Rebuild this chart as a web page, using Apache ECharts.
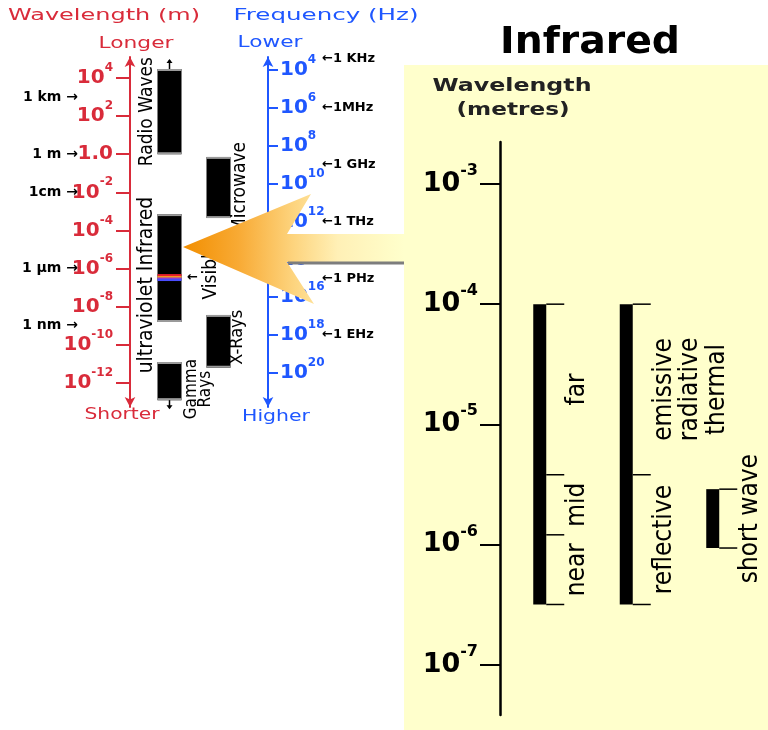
<!DOCTYPE html>
<html><head><meta charset="utf-8">
<script src="https://cdn.jsdelivr.net/npm/echarts@6/dist/echarts.min.js"></script>
<style>html,body{margin:0;padding:0;background:#fff}#c{width:768px;height:730px}</style>
</head><body><div id="c"></div>
<script>
// ---------------- data ----------------
const spectrumColumns = ['column A', 'column B'];
const bandNames = ['Radio Waves', 'Microwave', 'ultraviolet Infrared', 'Visible', 'X-Rays', 'Gamma\nRays'];
const bandColumn = [0, 1, 0, 0, 1, 0];
const bandLongExp = [4.47, -0.14, -3.14, -6.34, -8.43, -10.9];   // log10 wavelength (m), long end
const bandShortExp = [0, -3.35, -8.8, -6.6, -11.2, -12.9];      // log10 wavelength (m), short end
const visibleStripeExp = [-6.34, -6.44, -6.52, -6.60];
const wavelengthTickExp = [4, 2, 0, -2, -4, -6, -8, -10, -12];
const wavelengthMarkNames = ['1 km', '1 m', '1cm', '1 µm', '1 nm'];
const wavelengthMarkExp = [3, 0, -2, -6, -9];
const frequencyTickExp = [4, 6, 8, 10, 12, 14, 16, 18, 20];
const frequencyMarkNames = ['1 KHz', '1MHz', '1 GHz', '1 THz', '1 PHz', '1 EHz'];
const frequencyMarkExp = [3.4, 6, 9, 12, 15, 18];

const irGroupNames = ['near / mid / far', 'reflective / emissive', 'short wave'];
const irEdgeExp = [[-6.5, -5.92, -5.42, -4], [-6.5, -5.42, -4], [-6.03, -5.54]];
const irSegmentNames = [['near', 'mid', 'far'], ['reflective', 'emissive\nradiative\nthermal'], ['short wave']];
const irTickExp = [-3, -4, -5, -6, -7];

// ---------------- style / layout ----------------
const RED = '#d92b3a', BLUE = '#1f57ff';
const NARROW = '"Liberation Sans Narrow", "DejaVu Sans Condensed", "Liberation Sans", sans-serif';
const WIDE = '"DejaVu Sans", Verdana, sans-serif';
const stripeColors = ['#e8202a', '#f7941d', '#8b3fd1', '#4a4cff'];
const bandLayout = {
  'Radio Waves': {dx: -22.5, dy: 0, size: 19, arrow: 'up'},
  'Microwave': {dx: 21.5, dy: 0, size: 19},
  'ultraviolet Infrared': {dx: -22.5, dy: 17, size: 21},
  'Visible': {dx: 42, dy: -6, size: 19},
  'X-Rays': {dx: 18.5, dy: -4, size: 18},
  'Gamma\nRays': {dx: 22.5, dy: 8, size: 17, lh: 14, arrow: 'down'}
};

const mctx = document.createElement('canvas').getContext('2d');
function fitScale(text, font, w) { mctx.font = font; return w / mctx.measureText(text).width; }
function heading(text, x, y, w, font, color) {
  return {type: 'text', x: x, y: y, scaleX: fitScale(text, font, w), z: 5,
    style: {text: text, font: font, fill: color, align: 'center', verticalAlign: 'middle'}};
}
function powLabel(v) { return v === 0 ? '{b|1.0}' : '{b|10}{s|' + v + '}'; }
function smallRich(color) {
  return {
    b: {fontFamily: WIDE, fontWeight: 'bold', fontSize: 20, color: color},
    s: {fontFamily: WIDE, fontWeight: 'bold', fontSize: 12, color: color, padding: [0, 0, 20, 0]}
  };
}

function renderBand(params, api) {
  const i = params.dataIndex;
  const name = bandNames[i];
  const L = bandLayout[name];
  const col = api.value(0);
  const p1 = api.coord([col, api.value(1)]);
  const p2 = api.coord([col, api.value(2)]);
  const cx = p1[0], y1 = p1[1], y2 = p2[1];
  const hw = 12;
  const ch = [];
  if (name === 'Visible') {
    visibleStripeExp.forEach(function (e, k) {
      const y = api.coord([col, e])[1];
      ch.push({type: 'rect', shape: {x: cx - hw, y: y - 1, width: 2 * hw, height: 2}, style: {fill: stripeColors[k]}});
    });
    ch.push({type: 'text', x: cx + hw + 11, y: (y1 + y2) / 2,
      style: {text: '←', font: 'bold 13px ' + WIDE, fill: '#000', align: 'center', verticalAlign: 'middle'}});
  } else {
    ch.push({type: 'rect', shape: {x: cx - hw, y: y1, width: 2 * hw, height: y2 - y1}, style: {fill: '#000'}});
    ch.push({type: 'rect', shape: {x: cx - hw, y: y1, width: 2 * hw, height: 2}, style: {fill: '#9a9a9a'}});
    ch.push({type: 'rect', shape: {x: cx - hw, y: y2 - 2, width: 2 * hw, height: 2}, style: {fill: '#9a9a9a'}});
  }
  if (L.arrow === 'up') {
    ch.push({type: 'line', shape: {x1: cx, y1: y1, x2: cx, y2: y1 - 9}, style: {stroke: '#000', lineWidth: 1.5}});
    ch.push({type: 'polygon', shape: {points: [[cx - 3, y1 - 6], [cx + 3, y1 - 6], [cx, y1 - 10]]}, style: {fill: '#000'}});
  } else if (L.arrow === 'down') {
    ch.push({type: 'line', shape: {x1: cx, y1: y2, x2: cx, y2: y2 + 8}, style: {stroke: '#000', lineWidth: 1.5}});
    ch.push({type: 'polygon', shape: {points: [[cx - 3, y2 + 5], [cx + 3, y2 + 5], [cx, y2 + 9]]}, style: {fill: '#000'}});
  }
  const lh = L.lh || L.size;
  ch.push({type: 'text', x: cx + L.dx - lh / 2, y: (y1 + y2) / 2 + L.dy, rotation: Math.PI / 2,
    style: {text: name, fontFamily: NARROW, fontSize: L.size, lineHeight: lh, fill: '#000', align: 'center', verticalAlign: 'top'}});
  return {type: 'group', children: ch};
}

function renderIR(params, api) {
  const g = params.dataIndex;
  const edges = irEdgeExp[g];
  const ys = edges.map(function (e) { return api.coord([g, e])[1]; });
  const cx = api.coord([g, edges[0]])[0];
  const barL = cx - 10, barW = 13, tickEnd = cx + 21;
  const yBottom = ys[0], yTop = ys[ys.length - 1];
  const ch = [{type: 'rect', shape: {x: barL, y: yTop, width: barW, height: yBottom - yTop}, style: {fill: '#000'}}];
  ys.forEach(function (y) {
    ch.push({type: 'line', shape: {x1: barL + barW, y1: y, x2: tickEnd, y2: y}, style: {stroke: '#000', lineWidth: 1.5}});
  });
  const lh = 26.5;
  for (let k = 0; k < edges.length - 1; k++) {
    ch.push({type: 'text', x: cx + 34 - lh / 2, y: (ys[k] + ys[k + 1]) / 2, rotation: Math.PI / 2,
      style: {text: irSegmentNames[g][k], fontFamily: NARROW, fontSize: 26, lineHeight: lh, fill: '#000',
        align: 'center', verticalAlign: 'top'}});
  }
  return {type: 'group', children: ch};
}

const chart = echarts.init(document.getElementById('c'), null, {renderer: 'canvas'});
const WL = {min: -13.26, max: 5.10};
const FQ = {min: 3.31, max: 21.80};

const option = {
  animation: false,
  backgroundColor: '#ffffff',
  grid: [
    {left: 145, width: 98, top: 57, height: 350},
    {left: 500, width: 259.5, top: 142, height: 573}
  ],
  xAxis: [
    {type: 'category', gridIndex: 0, data: spectrumColumns, show: false},
    {type: 'category', gridIndex: 1, data: irGroupNames, show: false}
  ],
  yAxis: [
    {type: 'value', gridIndex: 0, position: 'left', offset: 15, min: WL.min, max: WL.max,
      axisLine: {show: true, lineStyle: {color: RED, width: 2}, symbol: ['arrow', 'arrow'], symbolSize: [8, 10]},
      axisTick: {show: true, length: 14, lineStyle: {color: RED, width: 2}, customValues: wavelengthTickExp},
      axisLabel: {customValues: wavelengthTickExp, margin: 17, formatter: powLabel, rich: smallRich(RED)},
      splitLine: {show: false}},
    {type: 'value', gridIndex: 0, position: 'left', offset: 63, min: WL.min, max: WL.max,
      axisLine: {show: false}, axisTick: {show: false}, splitLine: {show: false},
      axisLabel: {customValues: wavelengthMarkExp, margin: 4, color: '#000', fontFamily: WIDE, fontWeight: 'bold', fontSize: 14,
        formatter: function (v) { return wavelengthMarkNames[wavelengthMarkExp.indexOf(v)] + ' →'; }}},
    {type: 'value', gridIndex: 0, position: 'right', offset: 25, inverse: true, min: FQ.min, max: FQ.max,
      axisLine: {show: true, lineStyle: {color: BLUE, width: 2}, symbol: ['arrow', 'arrow'], symbolSize: [8, 10]},
      axisTick: {show: true, length: 10, lineStyle: {color: BLUE, width: 2}, customValues: frequencyTickExp},
      axisLabel: {customValues: frequencyTickExp, margin: 12, formatter: powLabel, rich: smallRich(BLUE)},
      splitLine: {show: false}},
    {type: 'value', gridIndex: 0, position: 'right', offset: 77, inverse: true, min: FQ.min, max: FQ.max,
      axisLine: {show: false}, axisTick: {show: false}, splitLine: {show: false},
      axisLabel: {customValues: frequencyMarkExp, margin: 2, color: '#000', fontFamily: WIDE, fontWeight: 'bold', fontSize: 13,
        formatter: function (v) { return '←' + frequencyMarkNames[frequencyMarkExp.indexOf(v)]; }}},
    {type: 'value', gridIndex: 1, position: 'left', min: -7.42, max: -2.65,
      axisLine: {show: true, lineStyle: {color: '#000', width: 2.5}},
      axisTick: {show: true, length: 20, lineStyle: {color: '#000', width: 2}, customValues: irTickExp},
      axisLabel: {customValues: irTickExp, margin: 22, formatter: powLabel, rich: {
        b: {fontFamily: WIDE, fontWeight: 'bold', fontSize: 27, color: '#000'},
        s: {fontFamily: WIDE, fontWeight: 'bold', fontSize: 16, color: '#000', padding: [0, 0, 26, 0]}}},
      splitLine: {show: false}}
  ],
  series: [
    {type: 'custom', name: 'Spectrum bands', xAxisIndex: 0, yAxisIndex: 0, clip: false, renderItem: renderBand,
      data: bandNames.map(function (n, i) { return [bandColumn[i], bandLongExp[i], bandShortExp[i]]; })},
    {type: 'custom', name: 'Infrared bands', xAxisIndex: 1, yAxisIndex: 4, clip: false, renderItem: renderIR,
      data: irGroupNames.map(function (n, i) { return [i, irEdgeExp[i][0], irEdgeExp[i][irEdgeExp[i].length - 1]]; })}
  ],
  graphic: [
    {type: 'rect', z: -5, shape: {x: 404, y: 65, width: 364, height: 665}, style: {fill: '#ffffcc'}},
    heading('Wavelength (m)', 104, 16, 192, '16px ' + WIDE, RED),
    heading('Frequency (Hz)', 326, 16, 185, '16px ' + WIDE, BLUE),
    heading('Longer', 136, 44, 75, '15px ' + WIDE, RED),
    heading('Lower', 270, 43, 65, '15px ' + WIDE, BLUE),
    heading('Shorter', 122, 415, 75, '15px ' + WIDE, RED),
    heading('Higher', 276, 417, 68, '15px ' + WIDE, BLUE),
    heading('Infrared', 590, 43, 180, 'bold 38px ' + WIDE, '#000'),
    heading('Wavelength', 512, 87, 159, 'bold 17px ' + WIDE, '#222'),
    heading('(metres)', 513, 111, 113, 'bold 17px ' + WIDE, '#222'),
    {type: 'polygon', z: 50,
      shape: {points: [[183, 247], [311, 194], [287, 234], [404, 234], [404, 262], [287, 262], [314, 304]]},
      style: {fill: new echarts.graphic.LinearGradient(0, 0, 1, 0, [
        {offset: 0, color: '#f28e00'}, {offset: 0.25, color: '#f8aa34'}, {offset: 0.5, color: '#fdd47e'},
        {offset: 0.7, color: '#fff0b6'}, {offset: 1, color: '#ffffcc'}])}},
    {type: 'line', z: 50, shape: {x1: 288, y1: 263, x2: 404, y2: 263}, style: {stroke: '#7d7d7d', lineWidth: 3}}
  ]
};
chart.setOption(option);
</script>
</body></html>
